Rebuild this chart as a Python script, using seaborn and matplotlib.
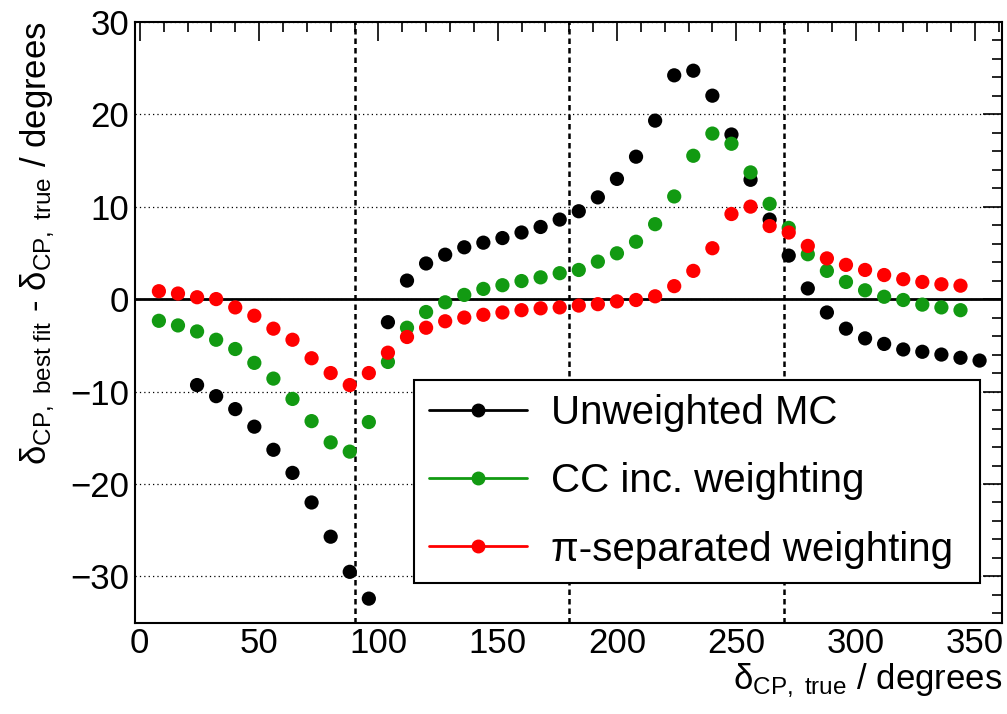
import matplotlib
matplotlib.use("Agg")
import matplotlib.pyplot as plt
from matplotlib.lines import Line2D
from matplotlib.ticker import MultipleLocator
import seaborn as sns
import pandas as pd

# delta_CP true values (degrees) for each series
x_unweighted = [24, 32, 40, 48, 56, 64, 72, 80, 88, 96, 104, 112, 120, 128, 136, 144,
                152, 160, 168, 176, 184, 192, 200, 208, 216, 224, 232, 240, 248, 256,
                264, 272, 280, 288, 296, 304, 312, 320, 328, 336, 344, 352]
x_weighted = [8, 16, 24, 32, 40, 48, 56, 64, 72, 80, 88, 96, 104, 112, 120, 128, 136,
              144, 152, 160, 168, 176, 184, 192, 200, 208, 216, 224, 232, 240, 248, 256,
              264, 272, 280, 288, 296, 304, 312, 320, 328, 336, 344]

# best fit - true (degrees)
y_unweighted = [-9.3, -10.5, -11.9, -13.8, -16.3, -18.8, -22.0, -25.7, -29.5, -32.4,
                -2.5, 2.0, 3.85, 4.8, 5.6, 6.1, 6.6, 7.2, 7.8, 8.6, 9.5, 11.0, 13.0,
                15.4, 19.3, 24.2, 24.7, 22.0, 17.8, 12.9, 8.6, 4.7, 1.15, -1.45, -3.2,
                -4.25, -4.85, -5.45, -5.7, -6.0, -6.35, -6.65]
y_cc_inc = [-2.35, -2.85, -3.5, -4.4, -5.4, -6.9, -8.6, -10.8, -13.2, -15.5, -16.5,
            -13.3, -6.8, -3.1, -1.4, -0.35, 0.45, 1.1, 1.5, 1.95, 2.35, 2.8, 3.15, 4.05,
            4.95, 6.2, 8.1, 11.1, 15.5, 17.9, 16.8, 13.7, 10.3, 7.7, 4.85, 3.05, 1.85,
            0.95, 0.25, -0.1, -0.6, -0.9, -1.2]
y_pi_sep = [0.85, 0.6, 0.2, 0.0, -0.9, -1.8, -3.2, -4.4, -6.4, -8.0, -9.3, -8.0, -5.8,
            -4.1, -3.1, -2.4, -2.0, -1.7, -1.45, -1.2, -1.0, -0.9, -0.7, -0.55, -0.25,
            -0.1, 0.3, 1.4, 3.05, 5.5, 9.2, 10.0, 7.9, 7.2, 5.75, 4.4, 3.7, 3.15, 2.6,
            2.15, 1.85, 1.6, 1.45]

series_names = ["Unweighted MC", "CC inc. weighting", "\u03c0-separated weighting"]
series_colors = ["#000000", "#129a12", "#ff0000"]
marker_lines = [90, 180, 270]

df = pd.concat([
    pd.DataFrame({"dcp_true": x_unweighted, "delta": y_unweighted, "series": series_names[0]}),
    pd.DataFrame({"dcp_true": x_weighted, "delta": y_cc_inc, "series": series_names[1]}),
    pd.DataFrame({"dcp_true": x_weighted, "delta": y_pi_sep, "series": series_names[2]}),
], ignore_index=True)

sns.set_theme(style="white")
plt.rcParams["font.family"] = ["Liberation Sans", "DejaVu Sans"]
plt.rcParams["mathtext.fontset"] = "custom"
plt.rcParams["mathtext.rm"] = "Liberation Sans"
plt.rcParams["mathtext.it"] = "Liberation Sans:italic"
plt.rcParams["mathtext.bf"] = "Liberation Sans:bold"
for key in ["text.color", "axes.labelcolor", "xtick.color", "ytick.color"]:
    plt.rcParams[key] = "black"

fig = plt.figure(figsize=(10.07, 7.14), dpi=100)
ax = fig.add_axes([0.1341, 0.1279, 0.8607, 0.8417])

# reference lines
ax.axhline(0, color="black", lw=2.0, zorder=1)
for xv in marker_lines:
    ax.axvline(xv, color="black", lw=1.8, ls=(0, (2.2, 1.6)), zorder=1)
ax.grid(axis="y", color="black", lw=0.9, ls=(0, (1, 2.5)))
ax.set_axisbelow(True)

sns.scatterplot(data=df, x="dcp_true", y="delta", hue="series",
                palette=dict(zip(series_names, series_colors)),
                s=105, linewidth=0, alpha=1, legend=False, ax=ax, zorder=3)

ax.set_xlim(-2, 361.3)
ax.set_ylim(-35, 30)
ax.xaxis.set_major_locator(MultipleLocator(50))
ax.xaxis.set_minor_locator(MultipleLocator(10))
ax.yaxis.set_major_locator(MultipleLocator(10))
ax.yaxis.set_minor_locator(MultipleLocator(2))
ax.tick_params(which="both", direction="in", top=True, right=True, color="black", width=1.2)
ax.tick_params(which="major", length=14)
ax.tick_params(which="minor", length=7)
ax.tick_params(axis="x", which="major", labelsize=25, pad=3)
ax.tick_params(axis="y", which="major", labelsize=25, pad=4)
for sp in ax.spines.values():
    sp.set_color("black")
    sp.set_linewidth(1.5)

ax.set_xlabel(r"$\mathrm{\delta_{CP,\ true}}$ / degrees", fontsize=25, loc="right")
ax.xaxis.set_label_coords(1.0, -0.065)
ax.set_ylabel(r"$\mathrm{\delta_{CP,\ best\ fit}}$ - $\mathrm{\delta_{CP,\ true}}$ / degrees",
              fontsize=25, loc="top")
ax.yaxis.set_label_coords(-0.09, 1.0)

handles = [Line2D([], [], color=c, marker="o", markersize=9, lw=2) for c in series_colors]
leg = ax.legend(handles, series_names, loc="lower left",
                bbox_to_anchor=(0.322, 0.066, 0.653, 0.34), mode="expand",
                fontsize=29, frameon=True, fancybox=False, framealpha=1,
                edgecolor="black", borderaxespad=0, borderpad=0.36,
                handlelength=2.45, handletextpad=0.6, labelspacing=0.75)
leg.get_frame().set_linewidth(1.5)

fig.savefig("out.png", dpi=100)
